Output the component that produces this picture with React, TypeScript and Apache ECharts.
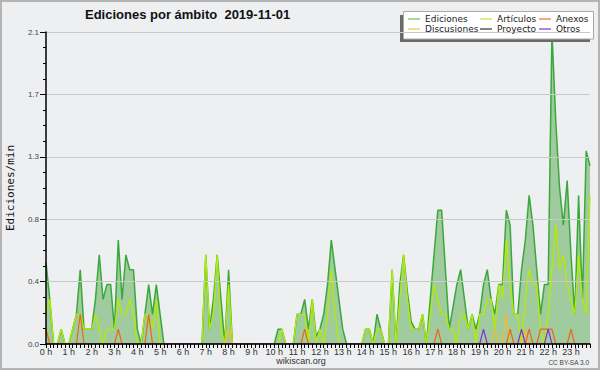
import React, { useEffect, useRef } from "react";
import * as echarts from "echarts";

const HOUR_LABELS = [
  "0 h", "1 h", "2 h", "3 h", "4 h", "5 h", "6 h", "7 h", "8 h", "9 h", "10 h", "11 h",
  "12 h", "13 h", "14 h", "15 h", "16 h", "17 h", "18 h", "19 h", "20 h", "21 h", "22 h", "23 h",
];
const MINUTES = ["00", "10", "20", "30", "40", "50"];
const Y_TICK_VALUES = [0, 0.42, 0.84, 1.26, 1.68, 2.1];

const TITLE = "Ediciones por ámbito  2019-11-01";
const Y_NAME = "Ediciones/min";

const EDICIONES = [
  0.55, 0.3, 0, 0, 0.1, 0, 0, 0.1, 0.2, 0.5, 0.1, 0.1,
  0.1, 0.3, 0.6, 0.3, 0.4, 0.4, 0.1, 0.7, 0.3, 0.6, 0.5, 0.5,
  0.1, 0, 0.2, 0.4, 0.2, 0.4, 0.2, 0, 0, 0, 0, 0,
  0, 0, 0, 0, 0, 0, 0.6, 0.1, 0.3, 0.6, 0.3, 0,
  0.5, 0, 0, 0, 0, 0, 0, 0, 0, 0, 0, 0,
  0, 0.1, 0.1, 0, 0, 0, 0.2, 0.2, 0.3, 0.1, 0.3, 0.05,
  0.1, 0.2, 0.4, 0.7, 0.5, 0.3, 0.1, 0, 0, 0, 0, 0,
  0.1, 0.1, 0, 0.2, 0.1, 0, 0, 0.5, 0, 0.4, 0.6, 0.35,
  0.15, 0.1, 0.1, 0.2, 0, 0.3, 0.6, 0.9, 0.9, 0.5, 0.1, 0.25,
  0.4, 0.5, 0.3, 0.1, 0.2, 0.1, 0.2, 0.4, 0.5, 0.3, 0.2, 0.4,
  0.4, 0.9, 0.8, 0.2, 0.2, 0.5, 0.7, 1.0, 0.8, 0.5, 0.2, 0.4,
  0.4, 2.1, 1.5, 1.05, 0.8, 1.1, 0.6, 0.2, 1.0, 0.3, 1.3, 1.2,
];

const ARTICULOS = [
  0.2, 0.3, 0, 0, 0.1, 0, 0, 0.1, 0.2, 0.2, 0.1, 0.1,
  0.1, 0.2, 0.1, 0, 0.1, 0.1, 0.1, 0.3, 0.2, 0.2, 0.3, 0.2,
  0, 0, 0.2, 0.2, 0.1, 0.3, 0, 0, 0, 0, 0, 0,
  0, 0, 0, 0, 0, 0, 0.6, 0.1, 0.2, 0.6, 0.1, 0,
  0.4, 0, 0, 0, 0, 0, 0, 0, 0, 0, 0, 0,
  0, 0, 0.1, 0, 0, 0, 0.2, 0.2, 0.2, 0, 0.3, 0,
  0.1, 0, 0.2, 0.5, 0.2, 0, 0, 0, 0, 0, 0, 0,
  0.1, 0.1, 0, 0.1, 0.1, 0, 0, 0.5, 0, 0.3, 0.6, 0.3,
  0.1, 0.1, 0.1, 0.2, 0, 0.2, 0.4, 0.3, 0.2, 0.2, 0.1, 0.1,
  0, 0.2, 0.2, 0.1, 0.2, 0, 0.2, 0.2, 0.3, 0.3, 0.1, 0.4,
  0.3, 0.7, 0.4, 0.2, 0.2, 0, 0.3, 0.5, 0.4, 0.4, 0.1, 0,
  0.2, 0.5, 0.8, 0.5, 0.6, 0.4, 0.3, 0.2, 0.6, 0.3, 0.2, 1.0,
];

const ANEXOS = [
  0.1, 0, 0, 0, 0, 0, 0, 0, 0, 0.2, 0, 0,
  0, 0, 0, 0, 0, 0, 0, 0.1, 0, 0, 0, 0,
  0, 0, 0, 0.2, 0, 0, 0, 0, 0, 0, 0, 0,
  0, 0, 0, 0, 0, 0, 0, 0, 0, 0, 0, 0,
  0, 0, 0, 0, 0, 0, 0, 0, 0, 0, 0, 0,
  0, 0, 0, 0, 0, 0, 0, 0, 0.1, 0, 0, 0,
  0, 0, 0, 0, 0, 0, 0, 0, 0, 0, 0, 0,
  0, 0, 0, 0, 0, 0, 0, 0, 0, 0, 0, 0,
  0, 0, 0, 0, 0, 0, 0, 0.1, 0, 0, 0, 0,
  0, 0, 0, 0, 0, 0, 0, 0, 0, 0, 0, 0,
  0, 0, 0.1, 0, 0, 0, 0, 0.1, 0, 0, 0.1, 0.1,
  0.1, 0.1, 0, 0, 0, 0, 0.1, 0, 0, 0, 0, 0,
];

const DISCUSIONES = [
  0, 0, 0, 0, 0, 0, 0, 0, 0, 0, 0, 0,
  0, 0, 0, 0, 0, 0, 0, 0, 0, 0, 0, 0,
  0, 0, 0, 0, 0, 0, 0, 0, 0, 0, 0, 0,
  0, 0, 0, 0, 0, 0, 0, 0, 0, 0, 0, 0,
  0.1, 0, 0, 0, 0, 0, 0, 0, 0, 0, 0, 0,
  0, 0, 0, 0, 0, 0, 0, 0, 0, 0, 0, 0,
  0, 0, 0, 0, 0, 0, 0, 0, 0, 0, 0, 0,
  0, 0, 0, 0, 0, 0, 0, 0, 0, 0, 0, 0,
  0, 0, 0, 0, 0, 0, 0, 0, 0, 0, 0, 0,
  0, 0, 0, 0, 0, 0, 0, 0, 0, 0, 0.1, 0,
  0, 0.2, 0, 0, 0, 0, 0.1, 0, 0, 0, 0, 0,
  0, 0, 0, 0, 0, 0, 0, 0, 0, 0, 0, 0,
];

const PROYECTO = [
  0, 0, 0, 0, 0, 0, 0, 0, 0, 0, 0, 0,
  0, 0, 0, 0, 0, 0, 0, 0, 0, 0, 0, 0,
  0, 0, 0, 0, 0, 0, 0, 0, 0, 0, 0, 0,
  0, 0, 0, 0, 0, 0, 0, 0, 0, 0, 0, 0,
  0, 0, 0, 0, 0, 0, 0, 0, 0, 0, 0, 0,
  0, 0, 0, 0, 0, 0, 0, 0, 0, 0, 0, 0,
  0, 0, 0, 0, 0, 0, 0, 0, 0, 0, 0, 0,
  0, 0, 0, 0, 0, 0, 0, 0, 0, 0, 0, 0,
  0, 0, 0, 0, 0, 0, 0, 0, 0, 0, 0, 0,
  0, 0, 0, 0, 0, 0, 0, 0, 0, 0, 0, 0,
  0, 0, 0, 0, 0, 0, 0, 0, 0, 0, 0, 0,
  0, 0, 0, 0, 0, 0, 0, 0, 0, 0, 0, 0,
];

const OTROS = [
  0, 0, 0, 0, 0, 0, 0, 0, 0, 0, 0, 0,
  0, 0, 0, 0, 0, 0, 0, 0, 0, 0, 0, 0,
  0, 0, 0, 0, 0, 0, 0, 0, 0, 0, 0, 0,
  0, 0, 0, 0, 0, 0, 0, 0, 0, 0, 0, 0,
  0, 0, 0, 0, 0, 0, 0, 0, 0, 0, 0, 0,
  0, 0, 0, 0, 0, 0, 0, 0, 0, 0, 0, 0,
  0, 0, 0, 0, 0, 0, 0, 0, 0, 0, 0, 0,
  0, 0, 0, 0, 0, 0, 0, 0, 0, 0, 0, 0,
  0, 0, 0, 0, 0, 0, 0, 0, 0, 0, 0, 0,
  0, 0, 0, 0, 0, 0, 0, 0.1, 0, 0, 0, 0,
  0, 0, 0, 0, 0, 0.1, 0, 0, 0, 0, 0, 0,
  0.1, 0, 0, 0, 0, 0, 0, 0, 0, 0, 0, 0,
];

const CATEGORIES = HOUR_LABELS.flatMap((_, h) => MINUTES.map((m) => `${h}:${m}`));

const LINE_COLORS: Record<string, string> = {
  Ediciones: "#3aa83a",
  "Artículos": "#b4ec00",
  Anexos: "#f06418",
  Discusiones: "#f5be20",
  Proyecto: "#555555",
  Otros: "#8a2be2",
};
const LEGEND_COLORS: Record<string, string> = {
  Ediciones: "#86cc86",
  "Artículos": "#c8ec60",
  Anexos: "#f08a60",
  Discusiones: "#f8d060",
  Proyecto: "#5a5a5a",
  Otros: "#9a55ee",
};

const FONT = "Liberation Sans, Arial, sans-serif";

function legendCol(names: string[], left: number) {
  return {
    orient: "vertical",
    left,
    top: 14,
    padding: 0,
    itemGap: 0,
    itemWidth: 12,
    itemHeight: 1.5,
    selectedMode: false,
    z: 12,
    textStyle: { fontFamily: "DejaVu Sans, sans-serif", fontSize: 9, color: "#222", lineHeight: 10 },
    data: names.map((n) => ({
      name: n,
      icon: "rect",
      itemStyle: { color: LEGEND_COLORS[n], borderWidth: 0 },
      lineStyle: { color: LEGEND_COLORS[n] },
    })),
  };
}

function lineSeries(name: string, data: number[], width: number, extra: any = {}) {
  return {
    name,
    type: "line",
    data,
    showSymbol: false,
    symbol: "none",
    lineStyle: { color: LINE_COLORS[name], width },
    itemStyle: { color: LINE_COLORS[name] },
    ...extra,
  };
}

export default function App() {
  const ref = useRef<HTMLDivElement>(null);
  useEffect(() => {
    const chart = echarts.init(ref.current!, null, { renderer: "svg" });
    const option: any = {
      animation: false,
      backgroundColor: "#eeeff1",
      grid: { left: 46, right: 10, top: 32, bottom: 26, containLabel: false },
      legend: [
        legendCol(["Ediciones", "Discusiones"], 408),
        legendCol(["Artículos", "Proyecto"], 480),
        legendCol(["Anexos", "Otros"], 539),
      ],
      xAxis: {
        type: "category",
        data: CATEGORIES,
        boundaryGap: false,
        z: 10,
        axisLine: { lineStyle: { color: "#000", width: 1.5 } },
        axisTick: { show: true, interval: 0, length: 4, lineStyle: { color: "#000" } },
        axisLabel: {
          interval: 5,
          margin: 3,
          fontFamily: FONT,
          fontSize: 9,
          color: "#333",
          formatter: (_v: string, idx: number) => HOUR_LABELS[Math.round(idx / 6)],
        },
        splitLine: { show: false },
      },
      yAxis: {
        type: "value",
        min: Y_TICK_VALUES[0],
        max: Y_TICK_VALUES[Y_TICK_VALUES.length - 1],
        interval: Y_TICK_VALUES[1],
        z: 10,
        axisLine: { show: true, lineStyle: { color: "#000", width: 1.5 } },
        axisTick: { show: true, length: 6, lineStyle: { color: "#000" } },
        minorTick: { show: true, splitNumber: 4, length: 3, lineStyle: { color: "#000" } },
        axisLabel: {
          margin: 7,
          fontFamily: FONT,
          fontSize: 8,
          color: "#444",
          formatter: (v: number) => v.toFixed(1),
        },
        splitLine: { show: true, lineStyle: { color: "#c9c9c9", width: 1 } },
      },
      series: [
        lineSeries("Ediciones", EDICIONES, 1.5, {
          areaStyle: { color: "#9fcb9f", opacity: 1 },
        }),
        lineSeries("Artículos", ARTICULOS, 1.3),
        lineSeries("Proyecto", PROYECTO, 1.2),
        lineSeries("Discusiones", DISCUSIONES, 1.2),
        lineSeries("Anexos", ANEXOS, 1.2),
        lineSeries("Otros", OTROS, 1.2),
      ],
      graphic: [
        {
          type: "rect",
          z: 20,
          shape: { x: 1, y: 1, width: 598, height: 368 },
          style: { fill: "none", stroke: "#b4b4b4", lineWidth: 2 },
          silent: true,
        },
        {
          type: "rect",
          z: 8,
          shape: { x: 400, y: 15, width: 190, height: 27 },
          style: { fill: "#6a6a6a" },
          silent: true,
        },
        {
          type: "rect",
          z: 9,
          shape: { x: 403.5, y: 11.5, width: 190, height: 27.5 },
          style: { fill: "#ffffff", stroke: "#a8a8a8", lineWidth: 1 },
          silent: true,
        },
        {
          type: "text",
          z: 12,
          x: 85,
          y: 14,
          style: {
            text: TITLE,
            fontFamily: FONT,
            fontWeight: "bold",
            fontSize: 13,
            fill: "#111",
            verticalAlign: "middle",
            align: "left",
          },
        },
        {
          type: "text",
          z: 12,
          x: 10,
          y: 188,
          rotation: Math.PI / 2,
          style: {
            text: Y_NAME,
            fontFamily: "DejaVu Sans Mono, monospace",
            fontSize: 11,
            fill: "#111",
            align: "center",
            verticalAlign: "middle",
          },
        },
        {
          type: "text",
          z: 12,
          x: 301,
          y: 361,
          style: {
            text: "wikiscan.org",
            fontFamily: FONT,
            fontSize: 9,
            fill: "#333",
            align: "center",
            verticalAlign: "middle",
          },
        },
        {
          type: "text",
          z: 12,
          x: 589,
          y: 362,
          style: {
            text: "CC BY-SA 3.0",
            fontFamily: FONT,
            fontSize: 6.5,
            fill: "#444",
            align: "right",
            verticalAlign: "middle",
          },
        },
      ],
    };
    chart.setOption(option);
    return () => chart.dispose();
  }, []);
  return (
    <div
      ref={ref}
      style={{ position: "absolute", left: 0, top: 0, width: 600, height: 370 }}
    />
  );
}
